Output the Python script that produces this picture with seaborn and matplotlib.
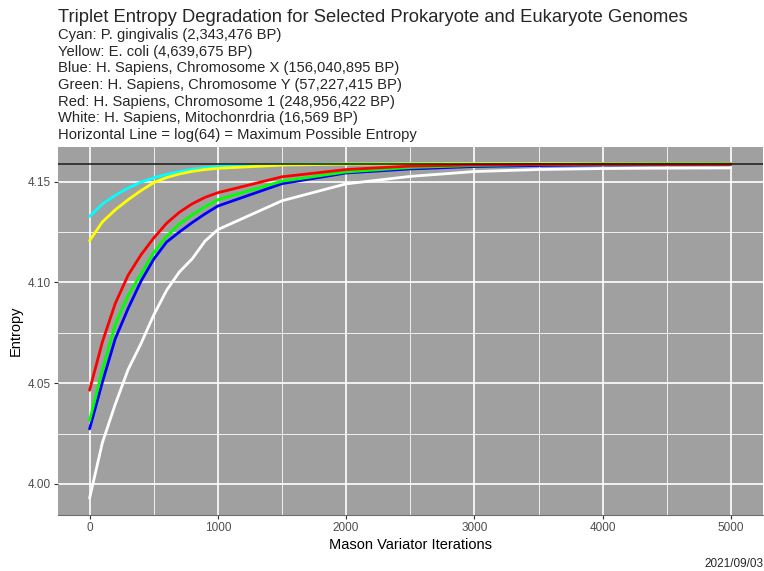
import numpy as np
import pandas as pd
import matplotlib
matplotlib.use("Agg")
import matplotlib.pyplot as plt
from matplotlib.ticker import MultipleLocator, FormatStrFormatter
import seaborn as sns

# iterations of the mason variator where entropy was sampled
iterations = [0, 100, 200, 300, 400, 500, 600, 700, 800, 900, 1000,
              1500, 2000, 2500, 3000, 3500, 4000, 4500, 5000]

cyan = [4.1327, 4.1389, 4.1432, 4.1468, 4.1497, 4.1519, 4.1536, 4.1550, 4.1561, 4.1569, 4.1575,
        4.1586, 4.1588, 4.1589, 4.1589, 4.1589, 4.1589, 4.1589, 4.1589]
yellow = [4.1207, 4.1300, 4.1360, 4.1410, 4.1455, 4.1495, 4.1520, 4.1538, 4.1551, 4.1560, 4.1566,
          4.1582, 4.1587, 4.1588, 4.1589, 4.1589, 4.1589, 4.1589, 4.1589]
blue = [4.0273, 4.0505, 4.0720, 4.0870, 4.1005, 4.1115, 4.1200, 4.1250, 4.1297, 4.1340, 4.1379,
        4.1490, 4.1543, 4.1563, 4.1575, 4.1580, 4.1583, 4.1585, 4.1586]
green = [4.0314, 4.0565, 4.0790, 4.0935, 4.1040, 4.1148, 4.1228, 4.1290, 4.1335, 4.1375, 4.1410,
         4.1502, 4.1548, 4.1570, 4.1580, 4.1585, 4.1587, 4.1588, 4.1588]
red = [4.0465, 4.0705, 4.0895, 4.1035, 4.1136, 4.1220, 4.1293, 4.1348, 4.1390, 4.1422, 4.1445,
       4.1524, 4.1560, 4.1577, 4.1583, 4.1585, 4.1586, 4.1586, 4.1586]
white = [3.9929, 4.0205, 4.0395, 4.0567, 4.0695, 4.0838, 4.0960, 4.1052, 4.1117, 4.1205, 4.1262,
         4.1405, 4.1489, 4.1526, 4.1550, 4.1560, 4.1565, 4.1567, 4.1568]

genomes = ["Cyan", "Yellow", "Blue", "Green", "Red", "White"]
palette = {"Cyan": "#00FFFF", "Yellow": "#FFFF00", "Blue": "#0000FF",
           "Green": "#00FF00", "Red": "#FF0000", "White": "#FFFFFF"}

title = "Triplet Entropy Degradation for Selected Prokaryote and Eukaryote Genomes"
subtitle = ["Cyan: P. gingivalis (2,343,476 BP)",
            "Yellow: E. coli (4,639,675 BP)",
            "Blue: H. Sapiens, Chromosome X (156,040,895 BP)",
            "Green: H. Sapiens, Chromosome Y (57,227,415 BP)",
            "Red: H. Sapiens, Chromosome 1 (248,956,422 BP)",
            "White: H. Sapiens, Mitochonrdria (16,569 BP)",
            "Horizontal Line = log(64) = Maximum Possible Entropy"]
caption = "2021/09/03"

df = pd.DataFrame({"Iterations": iterations, "Cyan": cyan, "Yellow": yellow, "Blue": blue,
                   "Green": green, "Red": red, "White": white})
df = df.melt(id_vars="Iterations", var_name="Genome", value_name="Entropy")

sns.set_theme(style="darkgrid")
plt.rcParams["font.family"] = ["Liberation Sans", "DejaVu Sans"]

W, H = 764, 571
fig = plt.figure(figsize=(W / 100, H / 100), dpi=100)
ax = fig.add_axes([57.5 / W, (H - 515) / H, (763 - 57.5) / W, (515 - 147) / H])
ax.set_facecolor("#A0A0A0")

sns.lineplot(data=df, x="Iterations", y="Entropy", hue="Genome", hue_order=genomes,
             palette=palette, linewidth=2.0, estimator=None, legend=False, ax=ax)
ax.axhline(np.log(64), color="#1A1A1A", linewidth=1.1)

lo = df["Entropy"].min()
hi = np.log(64)
pad = 0.05 * (hi - lo)
ax.set_ylim(lo - pad, hi + pad)
ax.set_xlim(-250, 5250)

ax.xaxis.set_major_locator(MultipleLocator(1000))
ax.xaxis.set_minor_locator(MultipleLocator(500))
ax.yaxis.set_major_locator(MultipleLocator(0.05))
ax.yaxis.set_minor_locator(MultipleLocator(0.025))
ax.yaxis.set_major_formatter(FormatStrFormatter("%.2f"))

ax.set_axisbelow(True)
ax.grid(which="major", color="white", linewidth=1.2)
ax.grid(which="minor", color="white", linewidth=0.65, alpha=0.9)

ax.tick_params(which="major", length=2.9, width=0.8, color="#333333", pad=2.2,
               labelsize=8.45, labelcolor="#4D4D4D", bottom=True, left=True)
ax.tick_params(which="minor", length=0)

for side in ["top", "right", "left"]:
    ax.spines[side].set_visible(False)
ax.spines["bottom"].set_color("#6E6E6E")
ax.spines["bottom"].set_linewidth(0.8)

ax.set_xlabel("Mason Variator Iterations", fontsize=10.56, color="black", labelpad=3.0)
ax.set_ylabel("Entropy", fontsize=10.56, color="black", labelpad=3.0)

fig.text(58 / W, 1 - 22 / H, title, fontsize=13.2, va="baseline", ha="left")
for i, line in enumerate(subtitle):
    fig.text(58 / W, 1 - (39 + 16.67 * i) / H, line, fontsize=10.6, va="baseline", ha="left")
fig.text(763 / W, 1 - 567 / H, caption, fontsize=8.45, va="baseline", ha="right")

fig.savefig("out.png", dpi=100)
